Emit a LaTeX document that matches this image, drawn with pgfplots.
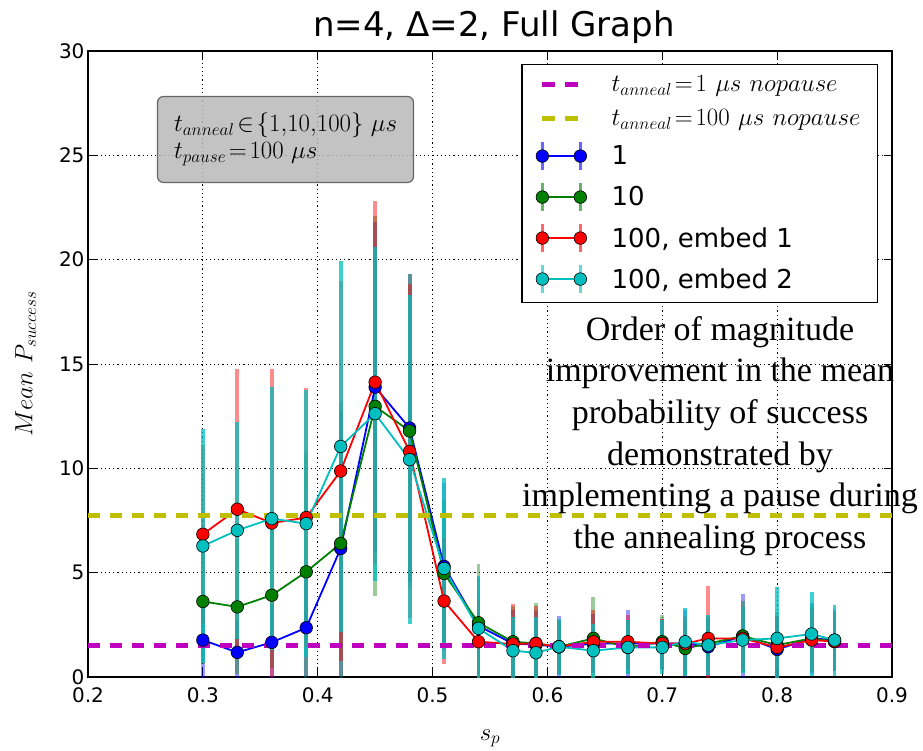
\documentclass[border=0pt]{standalone}
\usepackage{pgfplots}
\pgfplotsset{compat=1.18}
\usepackage{pgfplotstable}
\usepackage[no-math]{fontspec}
\setmainfont{DejaVu Sans}
\newfontfamily\annotfont{Liberation Serif}
\definecolor{mplm}{rgb}{0.75,0,0.75}
\definecolor{mply}{rgb}{0.75,0.75,0}
\definecolor{mplb}{rgb}{0,0,1}
\definecolor{mplg}{rgb}{0,0.5,0}
\definecolor{mplr}{rgb}{1,0,0}
\definecolor{mplc}{rgb}{0,0.75,0.75}

\pgfplotstableread{
x    b     be    g     ge    r     re    c     ce
0.30 1.77  1.8   3.62  3.0   6.84  4.3   6.28  5.6
0.33 1.18  1.5   3.36  3.2   8.04  6.7   7.03  5.2
0.36 1.66  1.8   3.92  3.5   7.38  7.4   7.59  6.3
0.39 2.36  2.4   5.04  5.7   7.64  6.2   7.35  6.4
0.42 6.16  6.6   6.40  6.8   9.87  9.1   11.05 8.9
0.45 13.89 7.9   12.97 9.1   14.13 8.7   12.62 8.0
0.48 11.93 7.4   11.79 7.5   10.81 8.0   10.42 7.9
0.51 5.30  4.0   4.96  3.5   3.64  3.0   5.20  4.35
0.54 2.45  2.3   2.60  2.8   1.69  2.0   2.33  2.5
0.57 1.60  1.6   1.69  1.7   1.58  1.9   1.26  1.6
0.59 1.55  1.6   1.61  1.95  1.61  1.8   1.16  1.7
0.61 1.45  1.45  1.45  1.3   1.45  1.3   1.45  1.35
0.64 1.60  1.4   1.85  2.0   1.69  1.5   1.26  1.3
0.67 1.61  1.6   1.42  1.3   1.69  1.3   1.42  1.3
0.70 1.60  1.2   1.69  1.3   1.60  1.2   1.42  1.3
0.72 1.60  1.6   1.37  1.3   1.60  1.3   1.69  1.6
0.74 1.45  1.4   1.60  1.3   1.85  2.5   1.53  1.45
0.77 1.96  2.0   1.96  1.7   1.85  1.5   1.77  1.6
0.80 1.32  1.6   1.53  1.6   1.42  1.5   1.85  2.45
0.83 1.85  1.7   1.85  1.6   1.77  1.5   2.06  2.0
0.85 1.77  1.5   1.70  1.4   1.70  1.4   1.77  1.7
}\datatable

\pgfplotsset{
  ebar/.style 2 args={draw=none, mark=none, forget plot,
    error bars/.cd, y dir=both, y explicit, error mark=none,
    error bar style={draw=#1, line width=3.8pt, draw opacity=#2}},
  serieslegend/.style={legend image code/.code={%
    \draw[##1, mark=none, line width=2.5pt, draw opacity=0.6] (0pt,-14pt)--(0pt,14pt) (38pt,-14pt)--(38pt,14pt);
    \draw[##1] plot coordinates {(0pt,0pt) (38pt,0pt)};}},
  dashlegend/.style={legend image code/.code={%
    \draw[##1] (0pt,0pt) -- (36pt,0pt);}},
  ser/.style={draw=#1, line width=1.8pt, mark=*, mark size=6.3pt,
    mark options={fill=#1, draw=black, line width=0.6pt}, serieslegend},
}

\begin{document}
\begin{tikzpicture}
\begin{axis}[
  scale only axis, width=804pt, height=626pt,
  xmin=0.2, xmax=0.9, ymin=0, ymax=30,
  xtick={0.2,0.3,0.4,0.5,0.6,0.7,0.8,0.9},
  xticklabels={0.2,0.3,0.4,0.5,0.6,0.7,0.8,0.9},
  ytick={0,5,10,15,20,25,30},
  /pgf/number format/assume math mode=true,
  tick label style={font=\fontsize{20}{24}\selectfont},
  xticklabel style={yshift=-7pt},
  tick align=inside, major tick length=8pt,
  tick style={black, line width=0.8pt},
  grid=major,
  major grid style={black, line width=0.8pt, dash pattern=on 1.2pt off 3pt},
  axis line style={line width=1.2pt},
  title={n=4, Δ=2, Full Graph},
  title style={font=\fontsize{34}{40}\selectfont, yshift=-2pt, xshift=4pt},
  xlabel={$s_p$}, ylabel={$Mean\ P_{success}$},
  label style={font=\fontsize{26}{30}\selectfont},
  xlabel style={yshift=-20pt},
  ylabel style={yshift=16pt},
  legend style={at={(0.9826,0.979)}, anchor=north east, draw=black,
    line width=1.2pt, fill=white, font=\fontsize{26}{30}\selectfont,
    row sep=10.5pt, inner xsep=14pt, inner ysep=8pt,
    nodes={inner sep=3pt},
    /tikz/every odd column/.append style={column sep=22pt}},
  legend cell align=left,
]
\addlegendimage{mplm, line width=4.5pt, dash pattern=on 13pt off 10pt, dashlegend}
\addlegendentry{$t_{anneal}\!=\!1\ \mu s\ nopause$}
\addlegendimage{mply, line width=4.5pt, dash pattern=on 13pt off 10pt, dashlegend}
\addlegendentry{$t_{anneal}\!=\!100\ \mu s\ nopause$}

\addplot[ebar={mplb}{0.4}] table[x=x, y=b, y error=be] {\datatable};
\addplot[ebar={mplg}{0.4}] table[x=x, y=g, y error=ge] {\datatable};
\addplot[ebar={mplr}{0.45}] table[x=x, y=r, y error=re] {\datatable};
\addplot[ebar={mplc}{0.75}] table[x=x, y=c, y error=ce] {\datatable};

\addplot[ser=mplb] table[x=x, y=b] {\datatable};
\addlegendentry{1}
\addplot[ser=mplg] table[x=x, y=g] {\datatable};
\addlegendentry{10}
\addplot[ser=mplr] table[x=x, y=r] {\datatable};
\addlegendentry{100, embed 1}
\addplot[ser=mplc] table[x=x, y=c] {\datatable};
\addlegendentry{100, embed 2}

\addplot[mplm, line width=4.5pt, dash pattern=on 12pt off 10pt, forget plot] coordinates {(0.2,1.52) (0.9,1.52)};
\addplot[mply, line width=4.5pt, dash pattern=on 12pt off 10pt, forget plot] coordinates {(0.2,7.75) (0.9,7.75)};

\node[draw=black!60, fill=black!28, fill opacity=0.85, text opacity=1,
  rounded corners=6pt, line width=1.2pt, anchor=north west, align=left,
  minimum width=256pt, minimum height=86pt, inner sep=6pt,
  font=\fontsize{23}{27}\selectfont] at (axis cs:0.26,27.85)
  {$t_{anneal}\!\in\!\{1,\!10,\!100\}\ \mu s$\\$t_{pause}\!=\!100\ \mu s$};
\end{axis}
\node[font=\annotfont\fontsize{34}{41.6}\selectfont, align=center]
  at ([xshift=632pt, yshift=241pt]current axis.south west)
  {Order of magnitude\\improvement in the mean\\probability of success\\demonstrated by\\implementing a pause during\\the annealing process};
\pgfresetboundingbox
\useasboundingbox ([xshift=-88pt, yshift=-73pt]current axis.south west) rectangle ++(923pt,750pt);
\end{tikzpicture}
\end{document}
